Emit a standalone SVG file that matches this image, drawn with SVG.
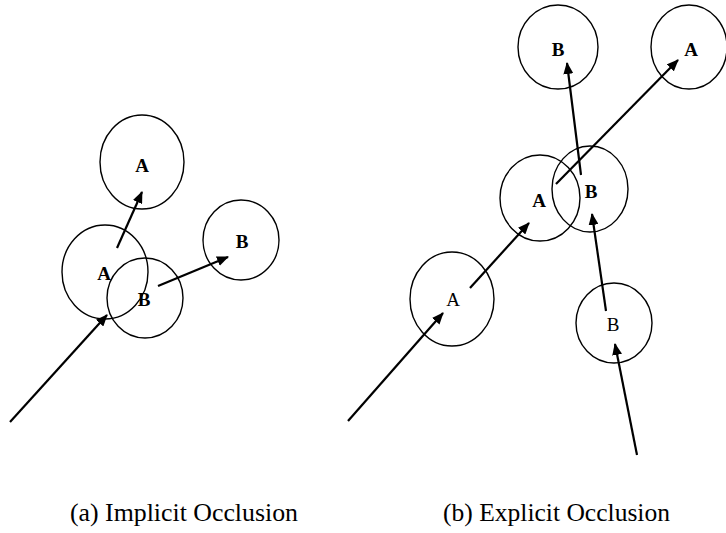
<svg xmlns="http://www.w3.org/2000/svg" width="726" height="533" viewBox="0 0 726 533">
<style>
.c{fill:none;stroke:#000;stroke-width:1.4}
.l{font-family:"Liberation Serif",serif;font-size:19px;text-anchor:middle;fill:#000}
.b{font-weight:bold}
.a{stroke:#000;stroke-width:2.2;fill:none;marker-end:url(#ah)}
.cap{font-family:"Liberation Serif",serif;font-size:25px;fill:#000}
</style>
<defs>
<marker id="ah" viewBox="0 0 12 10" refX="11" refY="5" markerWidth="12" markerHeight="10" markerUnits="userSpaceOnUse" orient="auto">
<path d="M0,0 L12,5 L0,10 Z" fill="#000"/>
</marker>
</defs>
<rect width="726" height="533" fill="#fff"/>
<g id="a-A-top"><ellipse class="c" cx="142" cy="162" rx="42" ry="47"/><text class="l b" x="142" y="172">A</text></g>
<g id="a-A-mid"><ellipse class="c" cx="105" cy="272" rx="43" ry="47"/><text class="l b" x="104" y="280">A</text></g>
<g id="a-B-mid"><ellipse class="c" cx="145" cy="298" rx="38" ry="40"/><text class="l b" x="144" y="306">B</text></g>
<g id="a-B-right"><ellipse class="c" cx="241" cy="240" rx="38" ry="40"/><text class="l b" x="242" y="248">B</text></g>
<g id="b-B-top"><ellipse class="c" cx="558" cy="47" rx="40" ry="42"/><text class="l b" x="558" y="56">B</text></g>
<g id="b-A-top"><ellipse class="c" cx="689" cy="47" rx="38" ry="42"/><text class="l b" x="691" y="56">A</text></g>
<g id="b-A-mid"><ellipse class="c" cx="540" cy="198" rx="40" ry="43"/><text class="l b" x="539" y="207">A</text></g>
<g id="b-B-mid"><ellipse class="c" cx="590" cy="189" rx="38" ry="43"/><text class="l b" x="591" y="198">B</text></g>
<g id="b-A-low"><ellipse class="c" cx="452" cy="299" rx="42" ry="47"/><text class="l" x="453" y="306">A</text></g>
<g id="b-B-low"><ellipse class="c" cx="614" cy="323" rx="38" ry="40"/><text class="l" x="613" y="331">B</text></g>
<g id="connectors">
<line class="a" x1="10" y1="422" x2="107" y2="315"/>
<line class="a" x1="117" y1="248" x2="142" y2="192"/>
<line class="a" x1="158" y1="286" x2="228" y2="257"/>
<line class="a" x1="348" y1="421" x2="443" y2="313"/>
<line class="a" x1="470" y1="288" x2="529" y2="223"/>
<line class="a" x1="637" y1="455" x2="615" y2="344"/>
<line class="a" x1="606" y1="311" x2="592" y2="214"/>
<line class="a" x1="581" y1="175" x2="567" y2="63"/>
<line class="a" x1="556" y1="184" x2="678" y2="60"/>
</g>
<text class="cap" x="70" y="521" textLength="228" lengthAdjust="spacingAndGlyphs">(a) Implicit Occlusion</text>
<text class="cap" x="443" y="521" textLength="227" lengthAdjust="spacingAndGlyphs">(b) Explicit Occlusion</text>
</svg>
